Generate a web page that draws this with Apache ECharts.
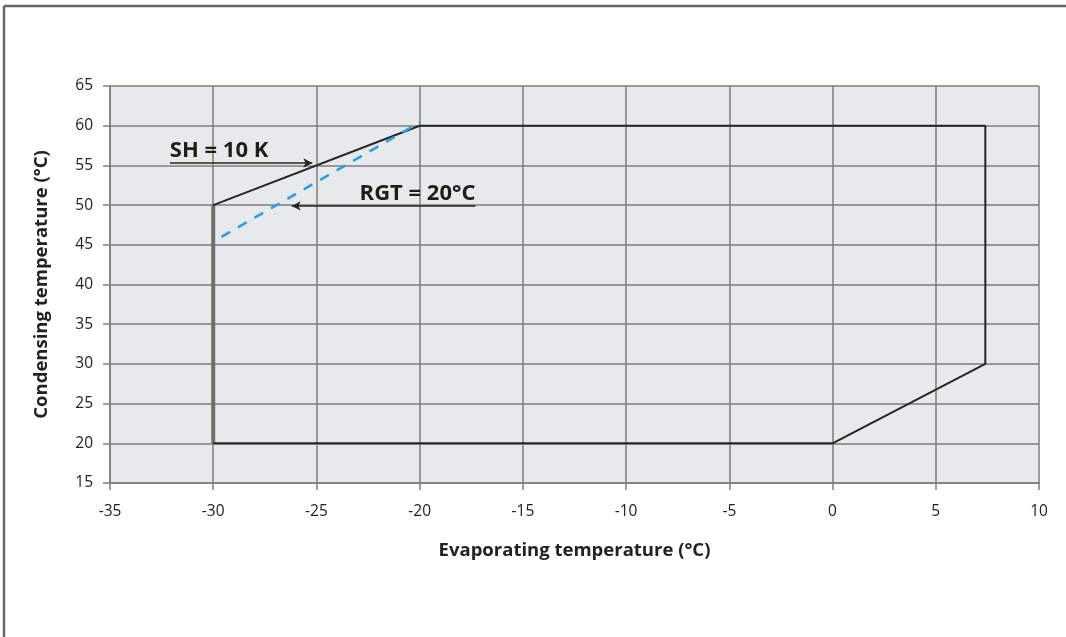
<!DOCTYPE html>
<html>
<head>
<meta charset="utf-8">
<script src="https://cdn.jsdelivr.net/npm/echarts@6/dist/echarts.min.js"></script>
<style>html,body{margin:0;padding:0;background:#fff}#c{width:1066px;height:637px}</style>
</head>
<body>
<div id="c"></div>
<script>
// Data (evaporating temperature °C, condensing temperature °C)
const envelope = [[-30, 50], [-20, 60], [7.4, 60], [7.4, 30], [0, 20], [-30, 20]];
const leftEdge = [[-30, 20], [-30, 50]];
const rgtLine = [[-29.6, 46], [-20, 60.4]];
const shArrow = [[-32.1, 55.3], [-25.2, 55.3]];
const rgtArrow = [[-17.3, 49.9], [-26.2, 49.9]];
const shLabel = { text: 'SH = 10 K', at: [-32.1, 55.3] };
const rgtLabel = { text: 'RGT = 20°C', at: [-17.3, 49.9] };
const xAxisRange = { min: -35, max: 10, step: 5 };
const yAxisRange = { min: 15, max: 65, step: 5 };

const chart = echarts.init(document.getElementById('c'), null, { renderer: 'canvas' });
const gridColor = '#7d7d7d';
const font = 'Open Sans';
chart.setOption({
  animation: false,
  backgroundColor: '#ffffff',
  grid: { left: 110, top: 86, width: 929, height: 397, show: true, backgroundColor: '#e8e9eb', borderWidth: 0 },
  xAxis: {
    type: 'value', min: xAxisRange.min, max: xAxisRange.max, interval: xAxisRange.step,
    name: 'Evaporating temperature (°C)', nameLocation: 'middle', nameGap: 58,
    nameTextStyle: { fontFamily: font, fontWeight: 'bold', fontSize: 18.5, color: '#222' },
    axisLine: { onZero: false, lineStyle: { color: gridColor, width: 1.5 } },
    axisTick: { show: true, length: 7, lineStyle: { color: gridColor, width: 1.5 } },
    axisLabel: { fontFamily: font, fontSize: 15.5, color: '#222', margin: 21 },
    splitLine: { show: true, lineStyle: { color: gridColor, width: 1.5 } }
  },
  yAxis: {
    type: 'value', min: yAxisRange.min, max: yAxisRange.max, interval: yAxisRange.step,
    name: 'Condensing temperature (°C)', nameLocation: 'middle', nameGap: 59,
    nameTextStyle: { fontFamily: font, fontWeight: 'bold', fontSize: 18.5, color: '#222' },
    axisLine: { show: true, onZero: false, lineStyle: { color: gridColor, width: 1.5 } },
    axisTick: { show: true, length: 7, lineStyle: { color: gridColor, width: 1.5 } },
    axisLabel: { fontFamily: font, fontSize: 15.5, color: '#222', margin: 17 },
    splitLine: { show: true, lineStyle: { color: gridColor, width: 1.5 } }
  },
  series: [
    { type: 'line', data: leftEdge, symbol: 'none', lineStyle: { color: '#6e6e6e', width: 4 }, z: 3 },
    { type: 'line', data: envelope, symbol: 'none', lineStyle: { color: '#262626', width: 2 }, z: 4 },
    { type: 'line', data: rgtLine, symbol: 'none', lineStyle: { color: '#2a9fe6', width: 2.5, type: [10, 9] }, z: 4 },
    {
      type: 'scatter', data: [], z: 5, silent: true,
      markLine: {
        silent: true, symbol: ['none', 'arrow'], symbolSize: [7, 9],
        lineStyle: { color: '#262626', width: 1.5, type: 'solid' }, label: { show: false },
        data: [
          [{ coord: shArrow[0] }, { coord: shArrow[1] }],
          [{ coord: rgtArrow[0] }, { coord: rgtArrow[1] }]
        ]
      }
    },
    {
      type: 'scatter', symbolSize: 0, z: 6, silent: true,
      itemStyle: { opacity: 1 },
      data: [
        { value: shLabel.at, name: shLabel.text, label: { align: 'left', verticalAlign: 'bottom', offset: [0, -1] } },
        { value: rgtLabel.at, name: rgtLabel.text, label: { align: 'right', verticalAlign: 'bottom', offset: [0, -1] } }
      ],
      label: { show: true, position: 'inside', formatter: p => p.name, fontFamily: font, fontWeight: 'bold', fontSize: 22, color: '#1e1e1e', opacity: 1 }
    }
  ],
  graphic: [
    { type: 'line', shape: { x1: 4, y1: 6, x2: 1066, y2: 6 }, style: { stroke: '#666', lineWidth: 2.5 } },
    { type: 'line', shape: { x1: 4, y1: 6, x2: 4, y2: 637 }, style: { stroke: '#666', lineWidth: 2.5 } }
  ]
});
</script>
</body>
</html>
